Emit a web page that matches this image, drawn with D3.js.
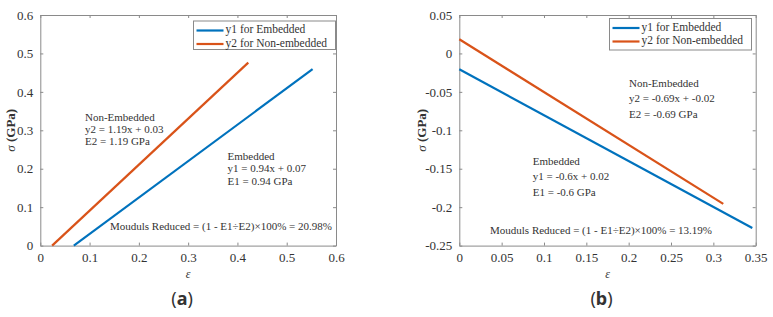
<!DOCTYPE html>
<html>
<head>
<meta charset="utf-8">
<script src="https://cdn.jsdelivr.net/npm/d3@7"></script>
<style>
  body { margin: 0; background: #fff; }
  svg text { font-family: "Liberation Serif", "Times New Roman", serif; fill: #333; }
</style>
</head>
<body>
<svg id="fig" width="773" height="317"></svg>
<script>
// panel (a)
const a_xticks = [0, 0.1, 0.2, 0.3, 0.4, 0.5, 0.6];
const a_yticks = [0, 0.1, 0.2, 0.3, 0.4, 0.5, 0.6];
const a_y1_eps = [0.068, 0.5525];
const a_y1_sig = [0, 0.459];
const a_y2_eps = [0.024, 0.422];
const a_y2_sig = [0, 0.476];

// panel (b)
const b_xticks = [0, 0.05, 0.1, 0.15, 0.2, 0.25, 0.3, 0.35];
const b_yticks = [-0.25, -0.2, -0.15, -0.1, -0.05, 0, 0.05];
const b_y1_eps = [0, 0.346];
const b_y1_sig = [-0.0206, -0.227];
const b_y2_eps = [0, 0.3117];
const b_y2_sig = [0.0184, -0.1958];

const legend_names = ['y1 for Embedded', 'y2 for Non-embedded'];
const colors = ['#0072BD', '#D95319'];

const svg = d3.select('#fig');
const axis_color = '#8a8a8a';

function drawPanel(cfg) {
    const xscale = d3.scaleLinear().domain(d3.extent(cfg.xticks)).range([cfg.left, cfg.right]);
    const yscale = d3.scaleLinear().domain(d3.extent(cfg.yticks)).range([cfg.bottom, cfg.top]);
    const fmt = v => String(+v.toFixed(2));
    const g = svg.append('g');

    // box with inward ticks on all four sides
    const axes = [
        [d3.axisBottom(xscale), `translate(0,${cfg.bottom})`, true],
        [d3.axisTop(xscale), `translate(0,${cfg.top})`, false],
        [d3.axisLeft(yscale), `translate(${cfg.left},0)`, true],
        [d3.axisRight(yscale), `translate(${cfg.right},0)`, false]
    ];
    axes.forEach(([ax, tr, labels], i) => {
        ax.tickValues(i < 2 ? cfg.xticks : cfg.yticks)
          .tickSizeInner(-3).tickSizeOuter(0)
          .tickPadding(i < 2 ? 7 : 7)
          .tickFormat(labels ? fmt : '');
        const ag = g.append('g').attr('transform', tr).call(ax);
        ag.attr('font-family', null);
        ag.select('.domain').attr('stroke', axis_color);
        ag.selectAll('.tick line').attr('stroke', axis_color);
        ag.selectAll('.tick text')
          .style('font-family', '"Liberation Serif", serif')
          .style('font-size', '13px')
          .attr('fill', '#333');
    });

    // lines
    const line = d3.line().x(d => xscale(d[0])).y(d => yscale(d[1]));
    cfg.series.forEach((s, i) => {
        g.append('path')
            .datum(d3.zip(s.eps, s.sig))
            .attr('d', line)
            .attr('fill', 'none')
            .attr('stroke', colors[i])
            .attr('stroke-width', 2.2);
    });

    // annotations
    cfg.notes.forEach(n => {
        const t = g.append('text')
            .attr('x', xscale(n.x))
            .attr('y', yscale(n.y))
            .attr('dominant-baseline', 'middle')
            .style('font-size', '11px');
        n.lines.forEach((s, k) => {
            t.append('tspan')
                .attr('x', xscale(n.x))
                .attr('dy', k === 0 ? 0 : n.gap)
                .text(s);
        });
    });

    // legend
    const lg = g.append('g');
    lg.append('rect')
        .attr('x', cfg.legend.x).attr('y', cfg.legend.y)
        .attr('width', cfg.legend.w).attr('height', cfg.legend.h)
        .attr('fill', '#fff').attr('stroke', axis_color);
    legend_names.forEach((name, i) => {
        const ly = cfg.legend.y + 9.5 + i * 13.5;
        lg.append('line')
            .attr('x1', cfg.legend.x + 3).attr('x2', cfg.legend.x + 30)
            .attr('y1', ly).attr('y2', ly)
            .attr('stroke', colors[i]).attr('stroke-width', 2.2);
        lg.append('text')
            .attr('x', cfg.legend.x + 32).attr('y', ly)
            .attr('dominant-baseline', 'middle')
            .style('font-size', '11.5px')
            .text(name);
    });

    // axis labels
    const cx = (cfg.left + cfg.right) / 2;
    g.append('text')
        .attr('x', cx).attr('y', 275)
        .attr('text-anchor', 'middle').attr('dominant-baseline', 'middle')
        .style('font-size', '12px').style('font-style', 'italic')
        .text('ε');
    const yl = g.append('text')
        .attr('transform', `translate(${cfg.ylabel_x},${(cfg.top + cfg.bottom) / 2}) rotate(-90)`)
        .attr('text-anchor', 'middle').attr('dominant-baseline', 'middle')
        .style('font-size', '13px').style('font-weight', 'bold');
    yl.append('tspan').style('font-style', 'italic').style('font-weight', 'normal').text('σ');
    yl.append('tspan').text(' (GPa)');

    // panel tag
    const tag = g.append('text')
        .attr('x', cx - 6).attr('y', 300)
        .attr('text-anchor', 'middle').attr('dominant-baseline', 'middle')
        .style('font-family', '"Noto Sans", sans-serif')
        .style('font-size', '18px');
    tag.append('tspan').text('(');
    tag.append('tspan').style('font-weight', 'bold').text(cfg.tag);
    tag.append('tspan').text(')');
}

drawPanel({
    left: 40.3, right: 336, top: 15, bottom: 245.6, ylabel_x: 12,
    xticks: a_xticks, yticks: a_yticks, tag: 'a',
    series: [{eps: a_y1_eps, sig: a_y1_sig}, {eps: a_y2_eps, sig: a_y2_sig}],
    legend: {x: 193.5, y: 21, w: 142, h: 28.5},
    notes: [
        {x: 0.0907, y: 0.331, gap: 11.7, lines: ['Non-Embedded', 'y2 = 1.19x + 0.03', 'E2 = 1.19 GPa']},
        {x: 0.380, y: 0.231, gap: 12.5, lines: ['Embedded', 'y1 = 0.94x + 0.07', 'E1 = 0.94 GPa']},
        {x: 0.1414, y: 0.0476, gap: 0, lines: ['Mouduls Reduced = (1 - E1÷E2)×100% = 20.98%']}
    ]
});

drawPanel({
    left: 459.3, right: 755.7, top: 15, bottom: 245.6, ylabel_x: 423,
    xticks: b_xticks, yticks: b_yticks, tag: 'b',
    series: [{eps: b_y1_eps, sig: b_y1_sig}, {eps: b_y2_eps, sig: b_y2_sig}],
    legend: {x: 609.5, y: 18.5, w: 142, h: 31.5},
    notes: [
        {x: 0.2004, y: -0.0397, gap: 15.5, lines: ['Non-Embedded', 'y2 = -0.69x + -0.02', 'E2 = -0.69 GPa']},
        {x: 0.0867, y: -0.1408, gap: 15.5, lines: ['Embedded', 'y1 = -0.6x + 0.02', 'E1 = -0.6 GPa']},
        {x: 0.0363, y: -0.2305, gap: 0, lines: ['Mouduls Reduced = (1 - E1÷E2)×100% = 13.19%']}
    ]
});
</script>
</body>
</html>
